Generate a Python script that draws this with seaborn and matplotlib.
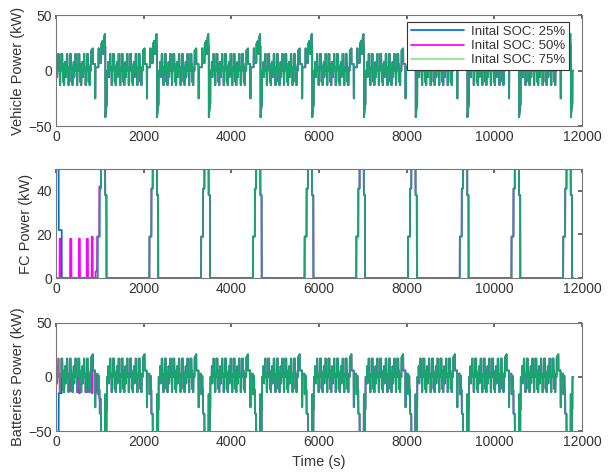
import numpy as np
import pandas as pd
import matplotlib
matplotlib.use('Agg')
import matplotlib.pyplot as plt
import seaborn as sns

# one drive cycle, repeated 10 times
cycle_len = 1180
n_cycles = 10

# urban part (one 195 s block, repeated 4 times per cycle)
ece_t = [0, 11, 12, 15, 16, 23, 24, 28, 29, 49, 50, 61, 62, 85, 86, 96, 97, 117,
         118, 143, 144, 155, 156, 163, 164, 176, 177, 188, 189, 195]
ece_vehicle = [0, 0, 8, 8, 1, 1, -6, -6, 0, 0, 15, 15, 3, 3, -13, -13, 0, 0,
               15, 15, 6, 6, -10, -10, 3, 3, -13, -13, 0, 0]
ece_battery = [0, 0, 10, 10, 1, 1, -6, -6, 0, 0, 17, 17, 3, 3, -14, -14, 0, 0,
               17, 17, 6, 6, -11, -11, 3, 3, -14, -14, 0, 0]

# extra-urban part of the cycle
eudc_t = [780, 800, 801, 840, 841, 890, 891, 898, 899, 968, 969, 980, 981, 1030,
          1031, 1065, 1066, 1095, 1096, 1115, 1116, 1125, 1126, 1140, 1160, 1161, 1180]
eudc_vehicle = [0, 0, 18, 20, 6, 6, -25, -25, 3, 3, 20, 20, 7, 7,
                24, 27, 15, 15, 30, 33, 22, 22, -42, -35, -30, 0, 0]

bat_eudc_t = [780, 800, 801, 840, 841, 890, 891, 898, 899, 950, 951, 968, 969, 980,
              981, 995, 996, 1025, 1026, 1120, 1121, 1125, 1126, 1150, 1151, 1160, 1161, 1180]
bat_eudc = [0, 0, 18, 21, 6, 6, -28, -28, 3, 3, -16, -16, 1, 1,
            -12, -12, -34, -34, -53, -53, -16, -16, -80, -75, -30, -30, 0, 0]

fc_t = [0, 950, 951, 995, 996, 1025, 1026, 1120, 1121, 1150, 1151, 1180]
fc_kw = [0, 0, 19, 19, 41, 41, 60, 60, 38, 38, 0, 0]

# first cycle differences
soc25_start = [0, 61]
soc25_end = [60, 130]
soc25_fc = [60, 22]
soc25_bat = [-60, -15]

soc50_start = [81, 321, 521, 701, 816, 901, 936, 986]
soc50_end = [110, 350, 545, 728, 835, 935, 965, 1025]
soc50_fc = [18, 18, 18, 18, 19, 3, 19, 42]
soc50_bat = [-14, -13, -15, -14, -15, 2, -14, -20]

soc_labels = ['Inital SOC: 25%', 'Inital SOC: 50%', 'Inital SOC: 75%']
soc_colors = ['#0072BD', '#FF00FF', '#2ECC2E']


def one_cycle(t_pts, v_pts):
    return np.interp(np.arange(cycle_len), t_pts, v_pts)


def tile(cyc):
    return np.concatenate([np.tile(cyc, n_cycles), [cyc[0]]])


time = np.arange(cycle_len * n_cycles + 1)

veh_t = sum([[t + k * 195 for t in ece_t] for k in range(4)], []) + eudc_t
veh_v = ece_vehicle * 4 + eudc_vehicle
bat_t = sum([[t + k * 195 for t in ece_t] for k in range(4)], []) + bat_eudc_t
bat_v = ece_battery * 4 + bat_eudc

vehicle = tile(one_cycle(veh_t, veh_v))
battery = tile(one_cycle(bat_t, bat_v))
fuelcell = tile(one_cycle(fc_t, fc_kw))


def with_spikes(base, starts, ends, vals):
    out = base.copy()
    for a, b, v in zip(starts, ends, vals):
        out[a:b + 1] = v
    return out


fc_series = [with_spikes(fuelcell, soc25_start, soc25_end, soc25_fc),
             with_spikes(fuelcell, soc50_start, soc50_end, soc50_fc),
             fuelcell]
bat_series = [with_spikes(battery, soc25_start, soc25_end, soc25_bat),
              with_spikes(battery, soc50_start, soc50_end, soc50_bat),
              battery]
veh_series = [vehicle, vehicle, vehicle]

sns.set_theme(style='white')
plt.rcParams['font.family'] = ['Liberation Sans', 'DejaVu Sans']
plt.rcParams['text.color'] = '#333333'
plt.rcParams['axes.labelcolor'] = '#333333'
plt.rcParams['xtick.color'] = '#333333'
plt.rcParams['ytick.color'] = '#333333'

fig = plt.figure(figsize=(6.12, 4.74), dpi=100)
boxes = [[0.0915, 0.734, 0.8595, 0.234],
         [0.0915, 0.4135, 0.8595, 0.230],
         [0.0915, 0.0907, 0.8595, 0.228]]
panels = [(veh_series, 'Vehicle Power (kW)', (-50, 50), [-50, 0, 50]),
          (fc_series, 'FC Power (kW)', (0, 50), [0, 20, 40]),
          (bat_series, 'Batteries Power (kW)', (-50, 50), [-50, 0, 50])]

draw_order = [1, 0, 2]
alphas = [1.0, 1.0, 0.55]
for i, (series, ylab, ylim, yt) in enumerate(panels):
    ax = fig.add_axes(boxes[i])
    handles = {}
    for j in draw_order:
        df = pd.DataFrame({'time': time, 'kW': series[j]})
        sns.lineplot(data=df, x='time', y='kW', color=soc_colors[j], alpha=alphas[j],
                     linewidth=1.25, estimator=None, sort=False, ax=ax)
        handles[j] = ax.lines[-1]
    ax.set_xlim(0, 12000)
    ax.set_ylim(*ylim)
    ax.set_xticks(range(0, 12001, 2000))
    ax.set_yticks(yt)
    ax.set_ylabel(ylab, fontsize=10.5, labelpad=2)
    ax.set_xlabel('Time (s)' if i == 2 else '', fontsize=10.5)
    ax.tick_params(direction='in', top=True, right=True, length=3, labelsize=10,
                   color='#555555', pad=3)
    for sp in ax.spines.values():
        sp.set_color('#777777')
        sp.set_linewidth(0.8)
    if i == 0:
        leg = ax.legend([handles[0], handles[1], handles[2]], soc_labels,
                        loc='upper right', bbox_to_anchor=(0.975, 0.94),
                        borderaxespad=0, fontsize=9.5, handlelength=4.0,
                        fancybox=False, framealpha=1, edgecolor='#333333',
                        labelspacing=0.15, borderpad=0.3, handletextpad=0.5)
        leg.get_frame().set_linewidth(0.8)

fig.savefig('out.png', dpi=100)
